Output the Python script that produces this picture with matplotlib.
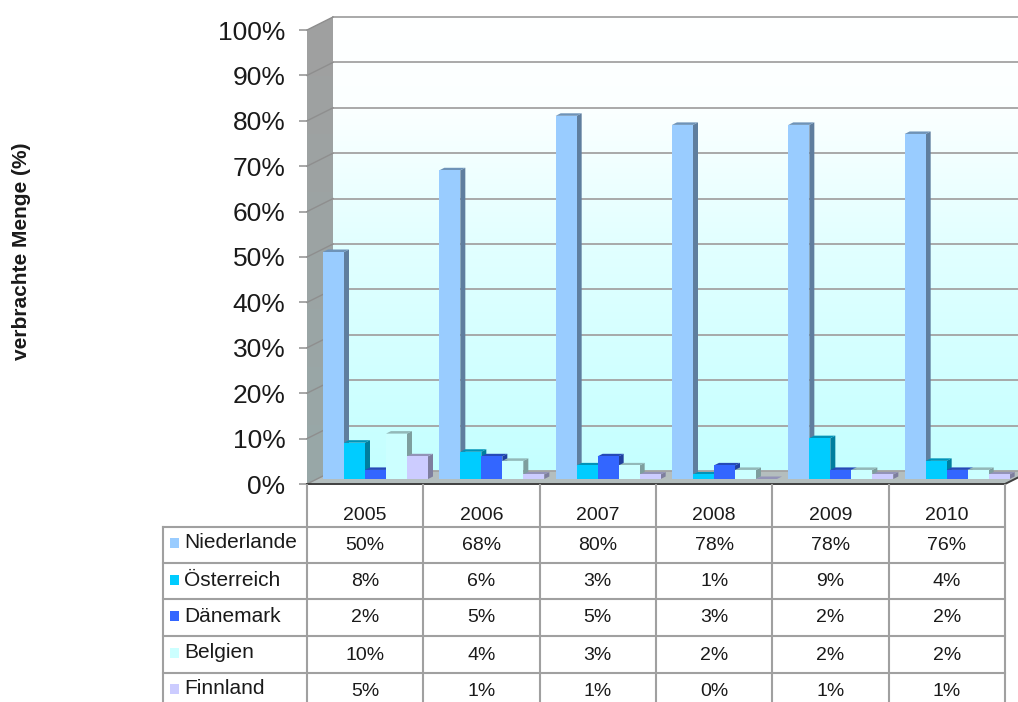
import numpy as np
import matplotlib
matplotlib.use("Agg")
import matplotlib.pyplot as plt
from matplotlib.colors import to_rgb, LinearSegmentedColormap
from matplotlib.lines import Line2D
from matplotlib.patches import Rectangle, Polygon

plt.rcParams['font.family'] = ['Liberation Sans', 'DejaVu Sans']

years = ['2005', '2006', '2007', '2008', '2009', '2010']
niederlande = [50, 68, 80, 78, 78, 76]
oesterreich = [8, 6, 3, 1, 9, 4]
daenemark = [2, 5, 5, 3, 2, 2]
belgien = [10, 4, 3, 2, 2, 2]
finnland = [5, 1, 1, 0, 1, 1]
series_names = ['Niederlande', 'Österreich', 'Dänemark', 'Belgien', 'Finnland']
series_values = [niederlande, oesterreich, daenemark, belgien, finnland]
series_colors = ['#99CCFF', '#00CCFF', '#3366FF', '#CCFFFF', '#CCCCFF']
y_ticks = list(range(0, 101, 10))

W, H = 1018, 702
fig = plt.figure(figsize=(W / 100, H / 100), dpi=100, facecolor='white')

# layout in pixels
L, R, T, B = 307, 1005, 30, 484
ax = fig.add_axes([L / W, 1 - B / H, (R - L) / W, (B - T) / H])
ax.set_xlim(0, 6)
ax.set_ylim(0, 100)
ax.patch.set_visible(False)
px = (R - L) / 6            # pixels per category
py = (B - T) / 100          # pixels per percent
DX, DY = 26 / px, 13 / py   # chart depth in data units

GRID = '#A3A3A3'

# back wall gradient
cmap = LinearSegmentedColormap.from_list(
    'wall', [(0, '#FFFFFF'), (0.2, '#FBFFFF'), (0.5, '#E2FFFF'), (1, '#C4FFFF')])
ax.imshow(np.linspace(0, 1, 256)[:, None], extent=(DX, 6 + DX, DY, 100 + DY),
          cmap=cmap, aspect='auto', origin='upper', zorder=0, clip_on=False)
ax.set_xlim(0, 6)
ax.set_ylim(0, 100)

# left side wall
side_cmap = LinearSegmentedColormap.from_list('side', ['#A0A0A0', '#98A8A8'])
ax.add_patch(Polygon([(0, 0), (DX, DY), (DX, 100 + DY), (0, 100)], closed=True,
                     facecolor='#9E9E9E', edgecolor='none', zorder=0.5, clip_on=False))
im = ax.imshow(np.linspace(0, 1, 256)[:, None], extent=(0, DX, 0, 100 + DY),
               cmap=side_cmap, aspect='auto', origin='upper', zorder=1)
im.set_clip_on(True)
im.set_clip_box(fig.bbox)
im.set_clip_path(Polygon([(0, 0), (DX, DY), (DX, 100 + DY), (0, 100)],
                         transform=ax.transData))
ax.set_xlim(0, 6)
ax.set_ylim(0, 100)

# floor
ax.add_patch(Polygon([(0, 0), (DX, DY), (6 + DX, DY), (6, 0)], closed=True,
                     facecolor='#B4BEBE', edgecolor='none', zorder=1, clip_on=False))

# gridlines on back and side walls
for v in y_ticks:
    ax.plot([DX, 6 + DX], [v + DY, v + DY], color=GRID, lw=1.3, zorder=2, clip_on=False)
    ax.plot([0, DX], [v, v + DY], color='#8E8E8E', lw=1.0, zorder=2, clip_on=False)

# bars
bar_w = 21 / px
group_off = 16 / px
base_y = 5 / py
side_dx, side_dy = 5 / px, 2.5 / py
for s, (vals, col) in enumerate(zip(series_values, series_colors)):
    rgb = np.array(to_rgb(col))
    x = np.arange(len(years)) + group_off + s * bar_w
    for xi, v in zip(x, vals):
        z = 3 + s * 0.1
        if v > 0:
            ax.bar(xi, v, width=bar_w, bottom=base_y, align='edge', color=col,
                   linewidth=0, zorder=z + 0.05, clip_on=False)
        top = v + base_y
        ax.add_patch(Polygon([(xi + bar_w, base_y), (xi + bar_w + side_dx, base_y + side_dy),
                              (xi + bar_w + side_dx, top + side_dy), (xi + bar_w, top)],
                             facecolor=rgb * 0.62, edgecolor='none', zorder=z, clip_on=False))
        ax.add_patch(Polygon([(xi, top), (xi + side_dx, top + side_dy),
                              (xi + bar_w + side_dx, top + side_dy), (xi + bar_w, top)],
                             facecolor=rgb * 0.72, edgecolor='none', zorder=z, clip_on=False))

# axes furniture
for sp in ['top', 'right', 'left']:
    ax.spines[sp].set_visible(False)
ax.spines['bottom'].set_color('#404040')
ax.spines['bottom'].set_linewidth(1.4)
ax.spines['bottom'].set_zorder(6)
ax.plot([6, 6 + DX], [0, DY], color='#404040', lw=1.4, zorder=6, clip_on=False)
ax.set_yticks(y_ticks)
ax.set_yticklabels([f'{v}%' for v in y_ticks], fontsize=19, color='#1A1A1A')
ax.tick_params(axis='y', length=5.5, width=1.2, color='#9A9A9A', pad=10)
ax.set_xticks([])

fig.text(22 / W, 1 - 251 / H, 'verbrachte Menge (%)', rotation=90, ha='center', va='center',
         fontsize=15, fontweight='bold', color='#1A1A1A')


# data table
def fx(p):
    return p / W


def fy(p):
    return 1 - p / H


row_lines = [527, 563, 599, 636, 673]
row_text = [546, 582, 618, 655, 692]
label_text = [543, 580, 616, 653, 689]
TBL = '#A0A0A0'
for y in row_lines:
    fig.add_artist(Line2D([fx(163), fx(R)], [fy(y), fy(y)], color=TBL, lw=1.5))
fig.add_artist(Line2D([fx(163), fx(163)], [fy(527), 0], color=TBL, lw=1.5))
for i in range(len(years) + 1):
    xp = L + i * px
    fig.add_artist(Line2D([fx(xp), fx(xp)], [fy(B + 1), 0], color=TBL, lw=1.5))

for i, yr in enumerate(years):
    xp = L + (i + 0.5) * px
    fig.text(fx(xp), fy(516), yr, ha='center', va='center', fontsize=14, color='#1A1A1A')
    for s, vals in enumerate(series_values):
        fig.text(fx(xp), fy(row_text[s]), f'{vals[i]}%', ha='center', va='center',
                 fontsize=14, color='#1A1A1A')

for s, name in enumerate(series_names):
    fig.text(fx(184), fy(label_text[s]), name, ha='left', va='center', fontsize=15, color='#1A1A1A')
    fig.add_artist(Rectangle((fx(170), fy(label_text[s] + 5)), 9 / W, 10 / H,
                             transform=fig.transFigure, facecolor=series_colors[s],
                             edgecolor='none'))

fig.savefig('out.png', dpi=100)
